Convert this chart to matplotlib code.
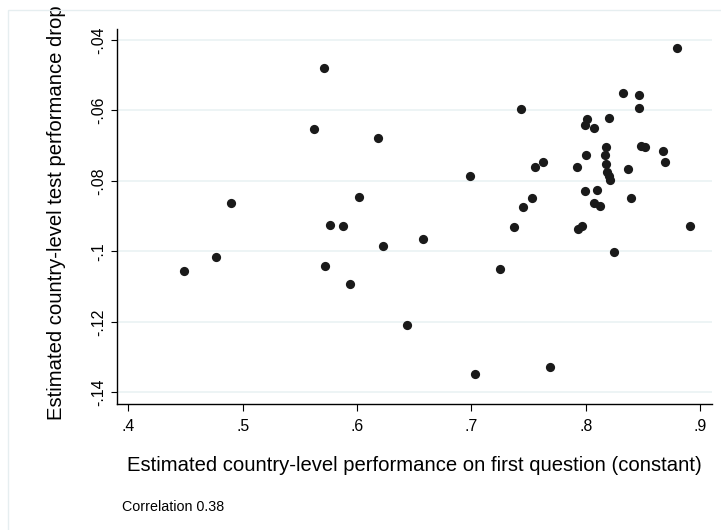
import matplotlib
matplotlib.use("Agg")
import matplotlib.pyplot as plt
from matplotlib.patches import Rectangle

plt.rcParams["font.family"] = ["Liberation Sans", "DejaVu Sans"]

# first-question performance (constant) per country
first_q = [
    0.449, 0.477, 0.490, 0.571, 0.5625, 0.618, 0.576, 0.588, 0.602, 0.572,
    0.594, 0.623, 0.658, 0.644, 0.699, 0.703, 0.725, 0.737, 0.743, 0.745,
    0.753, 0.756, 0.763, 0.769, 0.792, 0.7935, 0.7965, 0.799, 0.801, 0.800,
    0.7995, 0.807, 0.810, 0.807, 0.8125, 0.818, 0.817, 0.818, 0.819, 0.820,
    0.8215, 0.820, 0.825, 0.833, 0.837, 0.840, 0.847, 0.8465, 0.848, 0.852,
    0.8675, 0.869, 0.8795, 0.891,
]
# test performance drop per country
perf_drop = [
    -0.1057, -0.1016, -0.0862, -0.0480, -0.0654, -0.0678, -0.0924, -0.0927, -0.0845, -0.1041,
    -0.1092, -0.0984, -0.0966, -0.1210, -0.0786, -0.1348, -0.1049, -0.0930, -0.0595, -0.0874,
    -0.0849, -0.0761, -0.0745, -0.1329, -0.0761, -0.0936, -0.0929, -0.0641, -0.0623, -0.0727,
    -0.0828, -0.0651, -0.0827, -0.0864, -0.0871, -0.0703, -0.0726, -0.0752, -0.0774, -0.0785,
    -0.0798, -0.0622, -0.1002, -0.0550, -0.0766, -0.0848, -0.0556, -0.0592, -0.0701, -0.0704,
    -0.0714, -0.0745, -0.0424, -0.0929,
]

x_ticks = [0.4, 0.5, 0.6, 0.7, 0.8, 0.9]
x_tick_labels = [".4", ".5", ".6", ".7", ".8", ".9"]
y_ticks = [-0.04, -0.06, -0.08, -0.10, -0.12, -0.14]
y_tick_labels = ["-.04", "-.06", "-.08", "-.1", "-.12", "-.14"]

W, H = 721, 530
fig = plt.figure(figsize=(W / 100, H / 100), dpi=100)
fig.patch.set_facecolor("white")

# faint outer graph-region frame
fig.patches.append(Rectangle((8 / W, -0.1), 1.2, (H - 10) / H + 0.1,
                             transform=fig.transFigure, fill=False,
                             edgecolor="#e6eef0", linewidth=1.0))

ax = fig.add_axes([117 / W, (H - 404) / H, (712 - 117) / W, (404 - 29) / H])
ax.set_facecolor("white")

ax.scatter(first_q, perf_drop, s=44, color="#1a1a1a", linewidths=0, zorder=3)

ax.set_xlim(0.390, 0.9105)
ax.set_ylim(-0.1433, -0.0369)

ax.set_xticks(x_ticks)
ax.set_xticklabels(x_tick_labels)
ax.set_yticks(y_ticks)
ax.set_yticklabels(y_tick_labels, rotation=90, va="center")

ax.grid(axis="y", color="#eaf2f3", linewidth=1.2, zorder=0)
ax.grid(axis="x", visible=False)

for side in ["top", "right"]:
    ax.spines[side].set_visible(False)
for side in ["left", "bottom"]:
    ax.spines[side].set_linewidth(1.0)
    ax.spines[side].set_color("black")

ax.tick_params(axis="x", length=5, width=0.8, pad=6, labelsize=11.4)
ax.tick_params(axis="y", length=4, width=0.8, pad=4, labelsize=11.4)

ax.set_xlabel("Estimated country-level performance on first question (constant)",
              fontsize=14.6, va="baseline")
ax.xaxis.set_label_coords(0.5, (404 - 470.7) / 375)
ax.set_ylabel("Estimated country-level test performance drop",
              fontsize=14.6, va="baseline")
ax.yaxis.set_label_coords((62 - 117) / 595, 0.51)

fig.text(122 / W, (H - 511) / H, "Correlation 0.38", fontsize=10.3, va="baseline")

fig.savefig("out.png", dpi=100)
